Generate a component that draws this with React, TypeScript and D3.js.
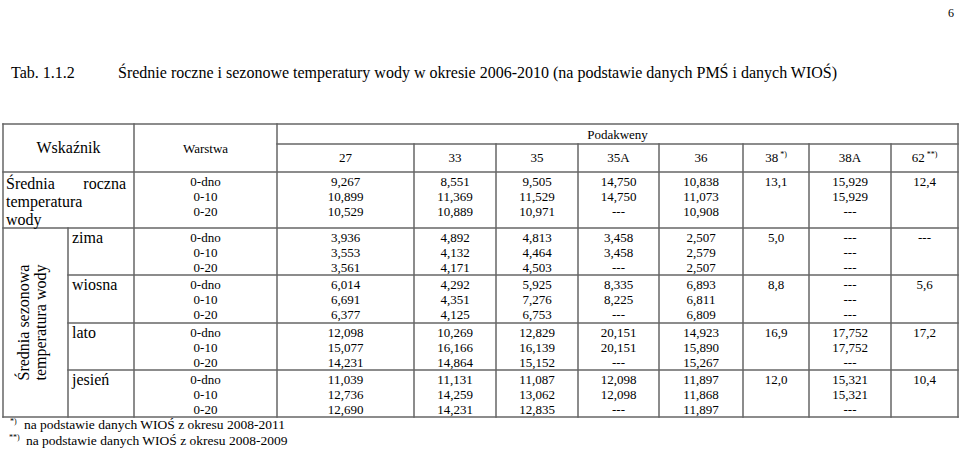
import React from "react";
import * as d3 from "d3";

// ---------- DATA ----------
const titleNumber = "Tab. 1.1.2";
const titleText = "Średnie roczne i sezonowe temperatury wody w okresie 2006-2010 (na podstawie danych PMŚ i danych WIOŚ)";
const pageNumber = "6";
const groupHeader = "Podakweny";
const podakweny = ["27", "33", "35", "35A", "36", "38", "38A", "62"];
const podakwenyMarks = ["", "", "", "", "", "*)", "", "**)"];
const seasons = ["zima", "wiosna", "lato", "jesień"];
const warstwy = ["0-dno", "0-10", "0-20"];
const footnoteMarks = ["*)", "**)"];
const footnotes = [
  "na podstawie danych WIOŚ z okresu 2008-2011",
  "na podstawie danych WIOŚ z okresu 2008-2009",
];
// rows: roczna, zima, wiosna, lato, jesień
const values27 = [["9,267", "10,899", "10,529"], ["3,936", "3,553", "3,561"], ["6,014", "6,691", "6,377"], ["12,098", "15,077", "14,231"], ["11,039", "12,736", "12,690"]];
const values33 = [["8,551", "11,369", "10,889"], ["4,892", "4,132", "4,171"], ["4,292", "4,351", "4,125"], ["10,269", "16,166", "14,864"], ["11,131", "14,259", "14,231"]];
const values35 = [["9,505", "11,529", "10,971"], ["4,813", "4,464", "4,503"], ["5,925", "7,276", "6,753"], ["12,829", "16,139", "15,152"], ["11,087", "13,062", "12,835"]];
const values35A = [["14,750", "14,750", "---"], ["3,458", "3,458", "---"], ["8,335", "8,225", "---"], ["20,151", "20,151", "---"], ["12,098", "12,098", "---"]];
const values36 = [["10,838", "11,073", "10,908"], ["2,507", "2,579", "2,507"], ["6,893", "6,811", "6,809"], ["14,923", "15,890", "15,267"], ["11,897", "11,868", "11,897"]];
const values38 = [["13,1"], ["5,0"], ["8,8"], ["16,9"], ["12,0"]];
const values38A = [["15,929", "15,929", "---"], ["---", "---", "---"], ["---", "---", "---"], ["17,752", "17,752", "---"], ["15,321", "15,321", "---"]];
const values62 = [["12,4"], ["---"], ["5,6"], ["17,2"], ["10,4"]];

const allValues = [values27, values33, values35, values35A, values36, values38, values38A, values62];

// ---------- LAYOUT ----------
const W = 960, H = 449;
const X0 = 3, XIN = 68, XW = 134, XD = 277, X1 = 958;
const colWidths = [137, 82, 82, 81, 84, 66, 82, 67];
const Y0 = 124, YP = 144, YH = 172;
const blockHeights = [56, 47, 48, 47, 47];
const LINE = "#666";
const TXT = "#000";
const FONT = "'Liberation Serif', 'Times New Roman', serif";

export default function App() {
  const colEdges = [XD, ...d3.cumsum(colWidths).map((c) => XD + c)];
  const xCenter = d3.scaleOrdinal<string, number>()
    .domain(podakweny)
    .range(podakweny.map((_, i) => (colEdges[i] + colEdges[i + 1]) / 2));
  const blockEdges = [YH, ...d3.cumsum(blockHeights).map((c) => YH + c)];
  const YB = blockEdges[blockEdges.length - 1];
  const lineY = d3.scaleLinear().domain([0, 1]).range([9, 24]);
  const tY = (b: number, i: number) => blockEdges[b] + lineY(i) + 4.5;

  const lines: [number, number, number, number][] = [];
  lines.push([X0, Y0, X1, Y0]);
  lines.push([XD, YP, X1, YP]);
  lines.push([X0, YH, X1, YH]);
  blockEdges.slice(1).forEach((y, i) => {
    const last = i === blockEdges.length - 2;
    lines.push([i === 0 || last ? X0 : XIN, y, X1, y]);
  });
  lines.push([X0, Y0, X0, YB]);
  lines.push([XIN, blockEdges[1], XIN, YB]);
  lines.push([XW, Y0, XW, YB]);
  lines.push([XD, Y0, XD, YB]);
  colEdges.slice(1, -1).forEach((x) => lines.push([x, YP, x, YB]));
  lines.push([X1, Y0, X1, YB]);

  const rotCy = (blockEdges[1] + YB) / 2;

  return (
    <svg width={W} height={H} style={{ position: "absolute", left: 0, top: 0, background: "#fff" }} fontFamily={FONT} fill={TXT}>
      <rect width={W} height={H} fill="#fff" />
      <text x={948} y={17} fontSize={12}>{pageNumber}</text>
      <text x={11} y={78} fontSize={16}>{titleNumber}</text>
      <text x={118} y={78} fontSize={16}>{titleText}</text>

      {lines.map((l, i) => (
        <line key={i} x1={l[0]} y1={l[1]} x2={l[2]} y2={l[3]} stroke={LINE} strokeWidth={1.5} strokeLinecap="square" />
      ))}

      {/* header */}
      <text x={(X0 + XW) / 2} y={153} fontSize={16} textAnchor="middle">Wskaźnik</text>
      <text x={(XW + XD) / 2} y={153} fontSize={13} textAnchor="middle">Warstwa</text>
      <text x={(XD + X1) / 2} y={139} fontSize={13} textAnchor="middle">{groupHeader}</text>
      {podakweny.map((p, i) => (
        <text key={p} x={xCenter(p)} y={162} fontSize={13} textAnchor="middle">
          {p}
          {podakwenyMarks[i] && <tspan fontSize={8} dy={-5}>{" " + podakwenyMarks[i]}</tspan>}
        </text>
      ))}

      {/* Średnia roczna */}
      <text x={6} y={189} fontSize={16}>Średnia</text>
      <text x={126} y={189} fontSize={16} textAnchor="end">roczna</text>
      <text x={6} y={207} fontSize={16}>temperatura</text>
      <text x={6} y={225} fontSize={16}>wody</text>

      {/* rotated label */}
      <g transform={`translate(29,${rotCy}) rotate(-90)`}>
        <text textAnchor="middle" fontSize={16}>Średnia sezonowa</text>
      </g>
      <g transform={`translate(46,${rotCy}) rotate(-90)`}>
        <text textAnchor="middle" fontSize={16}>temperatura wody</text>
      </g>
      {seasons.map((s, i) => (
        <text key={s} x={72} y={tY(i + 1, 0) + 1} fontSize={16}>{s}</text>
      ))}

      {/* warstwy */}
      {blockHeights.map((_, b) =>
        warstwy.map((w, i) => (
          <text key={`${b}-${w}`} x={(XW + XD) / 2} y={tY(b, i)} fontSize={13} textAnchor="middle">{w}</text>
        ))
      )}

      {/* values */}
      {allValues.map((col, c) =>
        col.map((cell, b) =>
          cell.map((v, i) => (
            <text key={`${c}-${b}-${i}`} x={xCenter(podakweny[c])} y={tY(b, i)} fontSize={13} textAnchor="middle">{v}</text>
          ))
        )
      )}

      {/* footnotes */}
      <text x={10} y={429} fontSize={13.5}>
        <tspan fontSize={8} dy={-5}>{footnoteMarks[0]}</tspan>
        <tspan x={24} dy={5}>{footnotes[0]}</tspan>
      </text>
      <text x={9} y={445} fontSize={13.5}>
        <tspan fontSize={8} dy={-5}>{footnoteMarks[1]}</tspan>
        <tspan x={26} dy={5}>{footnotes[1]}</tspan>
      </text>
    </svg>
  );
}
